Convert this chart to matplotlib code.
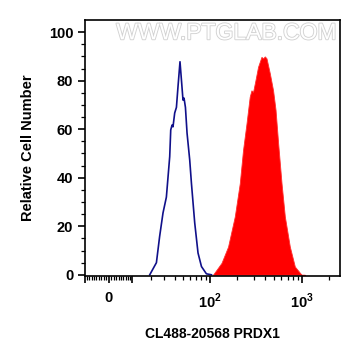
import numpy as np
import matplotlib
matplotlib.use("Agg")
import matplotlib.pyplot as plt
import matplotlib.patheffects as pe

plt.rcParams['font.family'] = ['Liberation Sans', 'DejaVu Sans']
plt.rcParams['mathtext.fontset'] = 'custom'
plt.rcParams['mathtext.rm'] = 'Liberation Sans:bold'
plt.rcParams['mathtext.bf'] = 'Liberation Sans:bold'

# isotype control (blue outline)
ctrl_x = [19.5, 24.0, 26.4, 29.1, 32.0, 35.1, 36.1, 37.4, 38.4, 40.2, 42.1, 43.9,
          46.3, 48.4, 50.1, 51.5, 53.4, 55.7, 59.7, 62.4, 67.9, 73.9, 80.7, 91.5, 104]
ctrl_y = [0, 5, 15.8, 25.5, 32, 48.7, 59.7, 61.7, 61, 66.7, 69, 77.5,
          87.8, 79, 72, 72.8, 69, 58.4, 47.3, 37.7, 21.4, 9, 3.4, 0.4, 0]

# PRDX1 stained sample (red fill)
prdx1_x = [108, 134, 158, 187, 212, 230, 251, 272, 284, 296, 314, 335, 365,
           380, 397, 414, 450, 488, 519, 554, 603, 655, 742, 841, 994, 1080]
prdx1_y = [0, 4.9, 11.6, 24, 37.7, 51.4, 62.4, 73.4, 76, 75.4, 80.2, 85.7, 89.8,
           89.2, 90, 89.2, 83, 76, 68, 54.2, 37.7, 24, 11.6, 3.4, 0, 0]

x_major = [-10, 0, 10, 100, 1000]
x_labels = ['', '0', '', r'$10^2$', r'$10^3$']
x_minor = [-9, -8, -7, -6, -5, -4, -3, -2, -1, 1, 2, 3, 4, 5, 6, 7, 8, 9,
           20, 30, 40, 50, 60, 70, 80, 90, 200, 300, 400, 500, 600, 700, 800, 900, 2000]

W = 16.0


def fwd(x):
    return np.arcsinh(np.asarray(x) / W) / np.log(10)


def inv(y):
    return W * np.sinh(np.asarray(y) * np.log(10))


fig = plt.figure(figsize=(3.61, 3.56), dpi=100)
ax = fig.add_axes([0.2355, 0.2247, 0.7063, 0.7191])
ax.set_xscale('function', functions=(fwd, inv))

ax.fill_between(prdx1_x, prdx1_y, 0, color='#ff0000', lw=0.6, edgecolor='#ff3030')
ax.plot(ctrl_x, ctrl_y, color='#10108a', lw=1.2)

ax.set_xlim(-10, 2600)
ax.set_ylim(-0.5, 105)

ax.set_xticks(x_major)
ax.set_xticklabels(x_labels)
ax.set_xticks(x_minor, minor=True)
ax.set_yticks([0, 20, 40, 60, 80, 100])
ax.set_yticks(np.arange(5, 100, 5), minor=True)

ax.tick_params(axis='both', which='major', direction='out', length=5, width=1.2,
               labelsize=10.5)
ax.tick_params(axis='both', which='minor', direction='out', length=3, width=0.9)
ax.tick_params(axis='x', which='major', pad=6)
for lab in ax.get_xticklabels() + ax.get_yticklabels():
    lab.set_fontweight('bold')

for s in ax.spines.values():
    s.set_linewidth(1.2)

ax.set_xlabel('CL488-20568 PRDX1', fontsize=10, fontweight='bold', labelpad=12)
ax.set_ylabel('Relative Cell Number', fontsize=10.5, fontweight='bold', labelpad=10)

ax.text(0.985, 0.95, 'WWW.PTGLAB.COM', transform=ax.transAxes, ha='right', va='center',
        fontsize=16.5, color='white',
        path_effects=[pe.withStroke(linewidth=1.3, foreground='#d2d2d2')])

fig.savefig('out.png', dpi=100)
